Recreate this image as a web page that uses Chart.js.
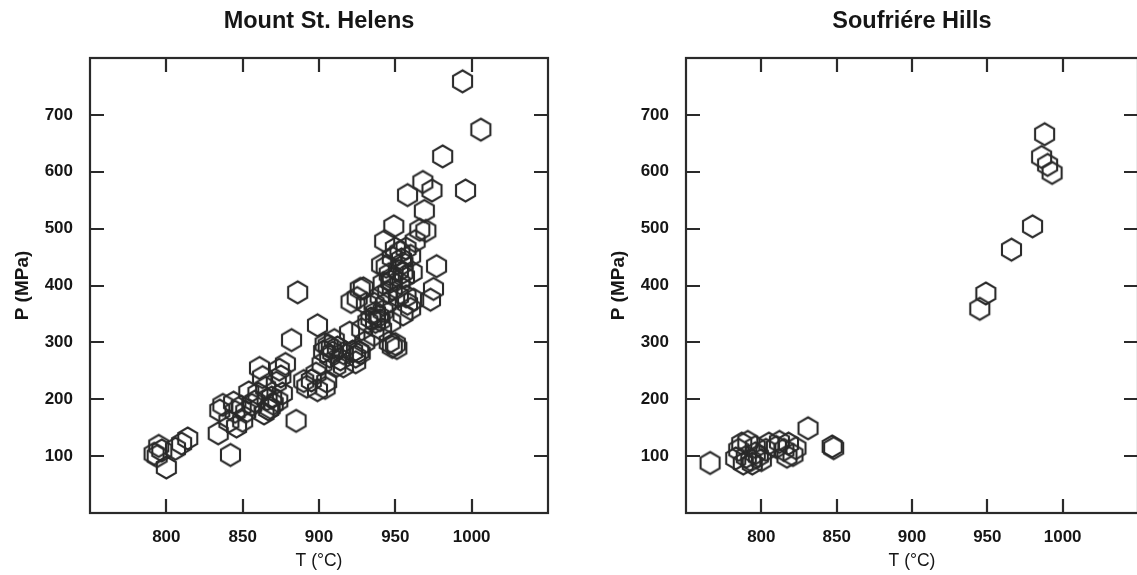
<!DOCTYPE html>
<html><head><meta charset="utf-8">
<script src="https://cdn.jsdelivr.net/npm/chart.js@4/dist/chart.umd.min.js"></script>
<style>
html,body{margin:0;padding:0;background:#fff;overflow:hidden;width:1137px;height:575px;position:relative;}
#c1{position:absolute;left:0;top:0;}
#c2{position:absolute;left:596px;top:0;}
</style></head><body>
<canvas id="c1" width="568" height="575"></canvas>
<canvas id="c2" width="562" height="575"></canvas>
<script>
// ---- data ----
const titles = ["Mount St. Helens", "Soufriére Hills"];
const xTitle = "T (°C)";
const yTitle = "P (MPa)";
const xTicks = [800, 850, 900, 950, 1000];
const yTicks = [100, 200, 300, 400, 500, 600, 700];

const mshT = [792,795,797,800,806,810,814,794,
 834,835,837,841,842,844,845,846,849,850,852,854,856,858,860,861,863,864,865,866,868,869,870,872,873,874,876,878,875,867,
 882,886,885,890,892,895,898,899,899,902,903,904,904,905,906,907,908,909,910,911,912,914,916,916,
 920,921,922,924,924,925,926,927,927,928,929,930,931,932,934,936,936,937,937,939,940,940,
 941,941,942,942,943,944,944,945,946,946,947,947,948,948,948,948,949,950,950,951,952,952,953,953,954,955,955,955,956,957,957,958,958,960,960,961,962,963,
 966,968,969,970,974,973,975,977,981,994,996,1006];
const mshP = [104,118,110,80,113,122,131,100,
 140,180,190,161,102,194,178,152,187,162,178,212,190,196,210,255,239,175,220,200,185,203,192,229,197,252,210,262,240,182,
 304,388,162,232,222,233,245,330,216,262,284,297,220,231,294,275,290,282,304,258,291,270,258,281,
 317,371,284,265,275,378,284,394,281,323,395,300,368,336,342,313,368,352,336,346,339,381,
 323,436,355,404,478,368,433,388,300,420,336,407,292,394,413,449,504,297,465,290,381,426,404,459,446,349,423,439,415,381,465,559,368,359,452,423,375,478,
 498,582,531,496,567,375,394,434,627,759,567,674];

const shvT = [766,783,785,787,788,790,791,793,794,796,796,798,800,803,805,810,812,815,817,818,821,823,831,847,848,945,949,966,980,986,988,990,993];
const shvP = [88,96,111,122,87,99,125,93,87,105,116,100,93,111,122,116,125,111,99,122,102,114,149,117,114,359,386,463,504,626,666,612,598];

// ---- styling ----
const INK = '#2a2a2a';
const TEXT = '#161616';
Chart.defaults.font.family = "'Liberation Sans', Arial, sans-serif";
Chart.defaults.color = TEXT;

function hexImage(r, lw, color) {
  const size = Math.ceil(2 * r + lw + 4);
  const c = document.createElement('canvas');
  c.width = size; c.height = size;
  const g = c.getContext('2d');
  g.strokeStyle = color; g.lineWidth = lw; g.lineJoin = 'miter';
  g.beginPath();
  for (let i = 0; i < 6; i++) {
    const a = -Math.PI / 2 + i * Math.PI / 3;
    const px = size / 2 + r * Math.cos(a), py = size / 2 + r * Math.sin(a);
    if (i === 0) g.moveTo(px, py); else g.lineTo(px, py);
  }
  g.closePath(); g.stroke();
  return c;
}
const hex = hexImage(11, 2.1, INK);

const innerTicks = {
  id: 'innerTicks',
  afterDraw(chart) {
    const {ctx, chartArea: a, scales: {x, y}} = chart;
    const TL = 14;
    ctx.save();
    ctx.strokeStyle = INK; ctx.lineWidth = 2.2; ctx.lineCap = 'butt';
    ctx.beginPath();
    x.ticks.forEach(t => {
      const px = Math.round(x.getPixelForValue(t.value));
      ctx.moveTo(px, a.bottom); ctx.lineTo(px, a.bottom - TL);
      ctx.moveTo(px, a.top); ctx.lineTo(px, a.top + TL);
    });
    y.ticks.forEach(t => {
      const py = Math.round(y.getPixelForValue(t.value));
      ctx.moveTo(a.left, py); ctx.lineTo(a.left + TL, py);
      ctx.moveTo(a.right, py); ctx.lineTo(a.right - TL, py);
    });
    ctx.stroke();
    ctx.strokeRect(a.left, a.top, a.right - a.left, a.bottom - a.top);
    ctx.restore();
  }
};

function makeChart(id, title, T, P) {
  const pts = T.map((t, i) => ({x: t, y: P[i]}));
  return new Chart(document.getElementById(id), {
    type: 'scatter',
    data: {datasets: [{data: pts, pointStyle: hex, pointRadius: 12, borderColor: INK, backgroundColor: 'rgba(0,0,0,0)'}]},
    options: {
      responsive: false, animation: false,
      layout: {padding: {left: 0, right: 20, top: 0, bottom: 0}},
      plugins: {
        legend: {display: false}, tooltip: {enabled: false},
        title: {display: true, fullSize: false, text: title, color: TEXT,
          font: {size: 23.5, weight: 'bold'}, padding: {top: 7, bottom: 22.8}}
      },
      scales: {
        x: {
          type: 'linear', min: 750, max: 1050,
          grid: {display: false, drawTicks: false}, border: {display: false},
          afterBuildTicks: s => { s.ticks = xTicks.map(v => ({value: v})); },
          afterFit: s => { s.height = 62; },
          ticks: {padding: 14, font: {size: 17, weight: 'bold'}, color: TEXT, callback: v => String(v), maxRotation: 0},
          title: {display: true, text: xTitle, color: TEXT, font: {size: 17.5}, padding: {top: 0, bottom: 3}}
        },
        y: {
          type: 'linear', min: 0, max: 800,
          grid: {display: false, drawTicks: false}, border: {display: false},
          afterBuildTicks: s => { s.ticks = yTicks.map(v => ({value: v})); },
          afterFit: s => { s.width = 90; },
          ticks: {padding: 17, font: {size: 17, weight: 'bold'}, color: TEXT, callback: v => String(v)},
          title: {display: true, text: yTitle, color: TEXT, font: {size: 19, weight: 'bold'}, padding: {top: 11, bottom: 0}}
        }
      }
    },
    plugins: [innerTicks]
  });
}
makeChart('c1', titles[0], mshT, mshP);
makeChart('c2', titles[1], shvT, shvP);
</script>
</body></html>
